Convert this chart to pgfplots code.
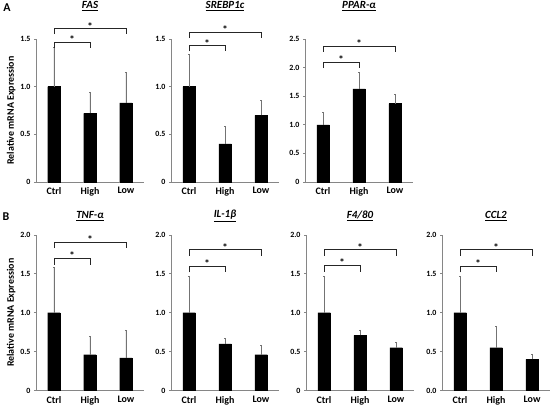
\documentclass[border=0pt]{standalone}
\usepackage{pgfplots}
\pgfplotsset{compat=1.18}
\usepackage{fontspec}
\setmainfont{Carlito}
\definecolor{axgray}{RGB}{134,134,134}
\definecolor{errgray}{RGB}{115,115,115}
\pgfplotsset{
 panel/.style={
  scale only axis, width=108bp, xmin=-0.5, xmax=2.5, ymin=0,
  axis x line*=bottom, axis y line*=left,
  axis line style={axgray, line width=0.8pt},
  xtick={0,1,2}, xticklabels={Ctrl,High,Low},
  x tick style={draw=none},
  y tick style={axgray, line width=0.8pt},
  tick align=outside, major tick length=2bp,
  xticklabel style={font=\bfseries\fontsize{10}{11}\selectfont},
  yticklabel style={font=\bfseries\fontsize{8}{9}\selectfont},
  /pgf/number format/assume math mode=true,
  clip=false,
  title style={at={(0.5,1)}, anchor=center, font=\bfseries\itshape\fontsize{11}{12}\selectfont},
  anchor=south west,
 },
 toprow/.style={panel, height=143bp, ymax=1.5, ytick={0,0.5,1,1.5}, yticklabels={0,0.5,1.0,1.5}, title style={yshift=27bp}},
 botrow/.style={panel, height=155.5bp, ymax=2.0, ytick={0,0.5,1,1.5,2}, yticklabels={0,0.5,1.0,1.5,2.0}, title style={yshift=13bp}},
 ylab/.style={ylabel={Relative mRNA Expression}, ylabel style={at={(axis description cs:-0.23,0.5)}, anchor=center, font=\bfseries\fontsize{10}{11}\selectfont}},
 barplot/.style={ybar, bar width=12.5bp, fill=black, draw=black, error bars/.cd, y dir=plus, y explicit, error bar style={errgray, line width=0.7pt}, error mark options={rotate=90, mark size=1bp, errgray, line width=0.7pt}},
 brk/.style={black!85, line width=0.7pt, mark=none, sharp plot},
}
\newcommand{\sigstar}[1]{\node[font=\bfseries\fontsize{11}{11}\selectfont, inner sep=0pt, anchor=base, yshift=-1.5bp] at (axis cs:#1) {*};}
\begin{document}
\begin{tikzpicture}
\path[use as bounding box] (0,0) rectangle (550bp,405bp);
\node[font=\bfseries\fontsize{12}{13}\selectfont] at (7bp,397bp) {A};
\node[font=\bfseries\fontsize{12}{13}\selectfont] at (6bp,188bp) {B};
% FAS
\begin{axis}[toprow, ylab, at={(36bp,223bp)}, title={\underline{FAS}}]
\addplot[barplot] coordinates {(0,1.00) +- (0,0.41) (1,0.72) +- (0,0.22) (2,0.83) +- (0,0.32)};
\addplot[brk] coordinates {(0,1.41) (0,1.47) (1,1.47) (1,1.41)};
\addplot[brk] coordinates {(0,1.55) (0,1.61) (2,1.61) (2,1.55)};
\sigstar{0.5,1.47}
\sigstar{1,1.61}
\end{axis}
% SREBP1c
\begin{axis}[toprow, at={(171bp,223bp)}, title={\underline{SREBP1c}}]
\addplot[barplot] coordinates {(0,1.00) +- (0,0.34) (1,0.40) +- (0,0.18) (2,0.70) +- (0,0.16)};
\addplot[brk] coordinates {(0,1.37) (0,1.43) (1,1.43) (1,1.37)};
\addplot[brk] coordinates {(0,1.51) (0,1.57) (2,1.57) (2,1.51)};
\sigstar{0.5,1.43}
\sigstar{1,1.57}
\end{axis}
% PPAR
\begin{axis}[toprow, at={(305bp,223bp)}, ymax=2.5, ytick={0,0.5,1,1.5,2,2.5}, yticklabels={0,0.5,1.0,1.5,2.0,2.5}, title={\underline{PPAR-α}}]
\addplot[barplot] coordinates {(0,1.00) +- (0,0.22) (1,1.63) +- (0,0.29) (2,1.37) +- (0,0.16)};
\addplot[brk] coordinates {(0,1.99) (0,2.09) (1,2.09) (1,1.99)};
\addplot[brk] coordinates {(0,2.28) (0,2.38) (2,2.38) (2,2.28)};
\sigstar{0.5,2.09}
\sigstar{1,2.38}
\end{axis}
% TNF
\begin{axis}[botrow, ylab, at={(36bp,14.5bp)}, title={\underline{TNF-α}}]
\addplot[barplot] coordinates {(0,1.00) +- (0,0.58) (1,0.46) +- (0,0.24) (2,0.42) +- (0,0.36)};
\addplot[brk] coordinates {(0,1.62) (0,1.70) (1,1.70) (1,1.62)};
\addplot[brk] coordinates {(0,1.83) (0,1.91) (2,1.91) (2,1.83)};
\sigstar{0.5,1.70}
\sigstar{1,1.91}
\end{axis}
% IL-1b
\begin{axis}[botrow, at={(171bp,14.5bp)}, title={\underline{IL-1β}}]
\addplot[barplot] coordinates {(0,1.00) +- (0,0.47) (1,0.60) +- (0,0.07) (2,0.46) +- (0,0.12)};
\addplot[brk] coordinates {(0,1.52) (0,1.60) (1,1.60) (1,1.52)};
\addplot[brk] coordinates {(0,1.73) (0,1.81) (2,1.81) (2,1.73)};
\sigstar{0.5,1.60}
\sigstar{1,1.81}
\end{axis}
% F4/80
\begin{axis}[botrow, at={(306bp,14.5bp)}, title={\underline{F4/80}}]
\addplot[barplot] coordinates {(0,1.00) +- (0,0.47) (1,0.71) +- (0,0.07) (2,0.55) +- (0,0.07)};
\addplot[brk] coordinates {(0,1.53) (0,1.61) (1,1.61) (1,1.53)};
\addplot[brk] coordinates {(0,1.73) (0,1.81) (2,1.81) (2,1.73)};
\sigstar{0.5,1.61}
\sigstar{1,1.81}
\end{axis}
% CCL2
\begin{axis}[botrow, at={(442bp,14.5bp)}, yticklabels={0.0,0.5,1.0,1.5,2.0}, title={\underline{CCL2}}]
\addplot[barplot] coordinates {(0,1.00) +- (0,0.47) (1,0.55) +- (0,0.27) (2,0.40) +- (0,0.07)};
\addplot[brk] coordinates {(0,1.52) (0,1.60) (1,1.60) (1,1.52)};
\addplot[brk] coordinates {(0,1.73) (0,1.81) (2,1.81) (2,1.73)};
\sigstar{0.5,1.60}
\sigstar{1,1.81}
\end{axis}
\end{tikzpicture}
\end{document}
